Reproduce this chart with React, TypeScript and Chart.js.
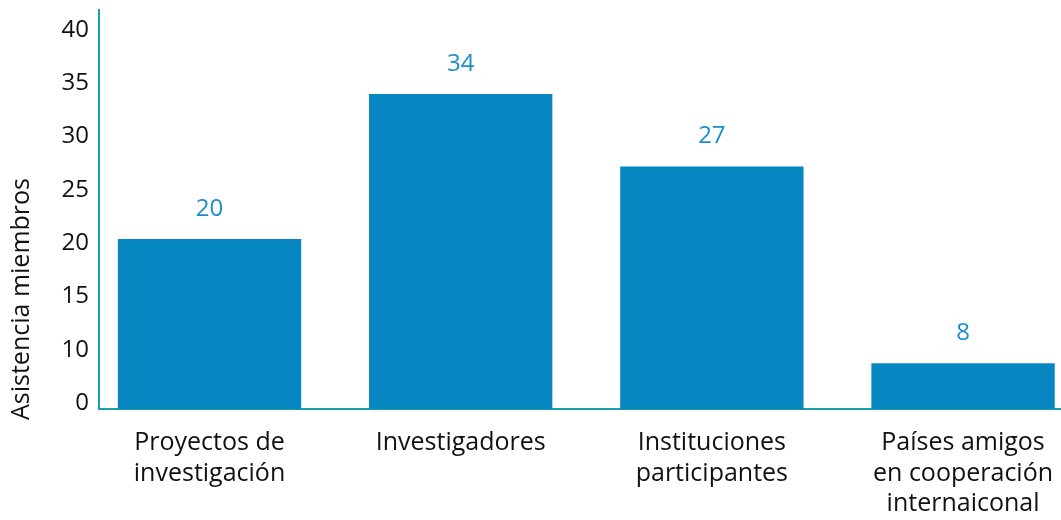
import React, { useEffect, useRef } from "react";
import { Chart, registerables } from "chart.js";

Chart.register(...registerables);

const categories: string[][] = [
  ["Proyectos de", "investigación"],
  ["Investigadores"],
  ["Instituciones", "participantes"],
  ["Países amigos", "en cooperación", "internaiconal"],
];
const positions = [0, 1, 2, 3];
const values = [20, 34, 27, 8];
const yTicks = [5, 10, 15, 20, 25, 30, 35, 40];
const yTickLabels = ["0", "10", "15", "20", "25", "30", "35", "40"];
const yTitle = "Asistencia miembros";

const FONT = "'Open Sans', 'Noto Sans', sans-serif";
const BAR = "#0787C2";
const LABEL = "#1A8FCA";
const AXIS = "#17A2AB";

const valueLabels = {
  id: "valueLabels",
  afterDatasetsDraw(chart: any) {
    const ctx = chart.ctx;
    const meta = chart.getDatasetMeta(0);
    ctx.save();
    ctx.fillStyle = LABEL;
    ctx.font = `24px ${FONT}`;
    ctx.textAlign = "center";
    ctx.textBaseline = "middle";
    meta.data.forEach((el: any, i: number) => {
      ctx.fillText(String(values[i]), el.x, el.y - 30);
    });
    ctx.restore();
  },
};

const axisTitle = {
  id: "axisTitle",
  afterDraw(chart: any) {
    const ctx = chart.ctx;
    const area = chart.chartArea;
    ctx.save();
    ctx.fillStyle = "#111";
    ctx.font = `25px ${FONT}`;
    ctx.textAlign = "center";
    ctx.textBaseline = "middle";
    ctx.translate(22, area.bottom - 110);
    ctx.rotate(-Math.PI / 2);
    ctx.fillText(yTitle, 0, 0);
    ctx.restore();
  },
};

export default function App() {
  const ref = useRef<HTMLCanvasElement>(null);
  useEffect(() => {
    document.body.style.margin = "0";
    const chart = new Chart(ref.current!, {
      type: "bar",
      data: {
        datasets: [
          {
            data: positions.map((p, i) => ({ x: p, y: values[i] })),
            backgroundColor: BAR,
            barPercentage: 0.73,
            categoryPercentage: 1,
            yAxisID: "yb",
          },
        ],
      },
      options: {
        responsive: false,
        animation: false,
        layout: { padding: { top: 10, left: 0, right: 0, bottom: 0 } },
        plugins: { legend: { display: false }, tooltip: { enabled: false } },
        scales: {
          x: {
            type: "linear",
            offset: false,
            bounds: "ticks",
            min: -0.44,
            max: 3.39,
            grid: { display: false, drawTicks: false, offset: false },
            border: { color: AXIS, width: 2 },
            afterBuildTicks: (s: any) => {
              s.ticks = positions.map((v) => ({ value: v }));
            },
            afterFit: (s: any) => {
              s.height = 111;
              s.paddingLeft = 0;
              s.paddingRight = 0;
            },
            ticks: {
              autoSkip: false,
              maxRotation: 0,
              padding: 19,
              color: "#111",
              font: { family: FONT, size: 25, lineHeight: 1.22 },
              callback: (v: any) => categories[Math.round(Number(v))] ?? "",
            },
          },
          y: {
            type: "linear",
            position: "left",
            min: 4.44,
            max: 41.88,
            grid: { display: false, drawTicks: false },
            border: { color: AXIS, width: 2 },
            afterBuildTicks: (s: any) => {
              s.ticks = yTicks.map((v) => ({ value: v }));
            },
            afterFit: (s: any) => {
              s.width = 99;
              s.paddingTop = 0;
              s.paddingBottom = 0;
            },
            ticks: {
              padding: 10,
              color: "#111",
              font: { family: FONT, size: 24 },
              callback: (v: any) => yTickLabels[yTicks.indexOf(Number(v))] ?? "",
            },
          },
          yb: {
            type: "linear",
            display: false,
            min: 3.59,
            max: 42.1,
          },
        },
      },
      plugins: [valueLabels, axisTitle],
    } as any);
    return () => chart.destroy();
  }, []);
  return (
    <div style={{ position: "fixed", left: 0, top: 0, width: 1061, height: 520 }}>
      <canvas ref={ref} width={1061} height={520} />
    </div>
  );
}
